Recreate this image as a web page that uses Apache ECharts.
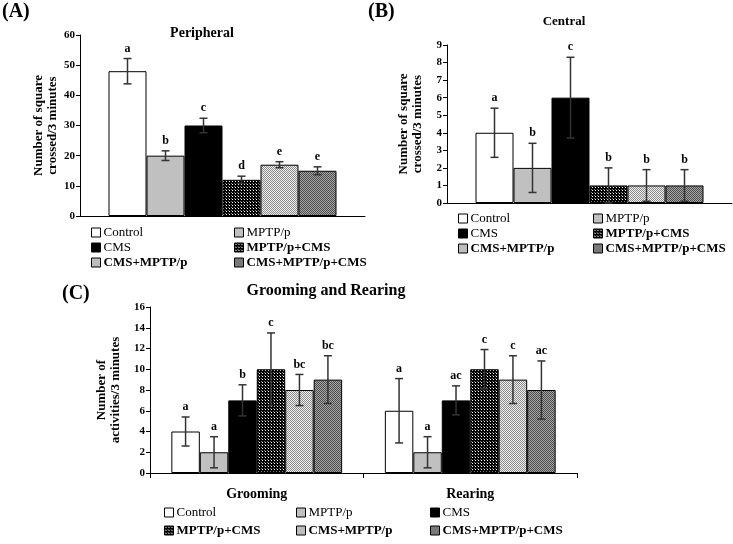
<!DOCTYPE html>
<html>
<head>
<meta charset="utf-8">
<script src="https://cdn.jsdelivr.net/npm/echarts@6/dist/echarts.min.js"></script>
<style>
  html, body { margin: 0; padding: 0; background: #fff; }
  #main { width: 733px; height: 544px; }
</style>
</head>
<body>
<div id="main"></div>
<script>
var groups = ['Control', 'MPTP/p', 'CMS', 'MPTP/p+CMS', 'CMS+MPTP/p', 'CMS+MPTP/p+CMS'];

// (A) peripheral
var periMean = [48, 20, 30, 12, 17, 15];
var periErr = [4.2, 1.6, 2.4, 1.2, 1.0, 1.3];
var periLetters = ['a', 'b', 'c', 'd', 'e', 'e'];
var periTicks = [0, 10, 20, 30, 40, 50, 60];

// (B) central
var centMean = [4, 2, 6, 1, 1, 1];
var centErr = [1.4, 1.4, 2.3, 1.0, 0.9, 0.9];
var centLetters = ['a', 'b', 'c', 'b', 'b', 'b'];
var centTicks = [0, 1, 2, 3, 4, 5, 6, 7, 8, 9];

// (C) grooming and rearing
var behaviours = ['Grooming', 'Rearing'];
var groomMean = [4, 2, 7, 10, 8, 9];
var groomErr = [1.4, 1.5, 1.5, 3.5, 1.5, 2.3];
var groomLetters = ['a', 'a', 'b', 'c', 'bc', 'bc'];
var rearMean = [6, 2, 7, 10, 9, 8];
var rearErr = [3.1, 1.5, 1.4, 1.9, 2.3, 2.8];
var rearLetters = ['a', 'a', 'ac', 'c', 'c', 'ac'];
var activTicks = [0, 2, 4, 6, 8, 10, 12, 14, 16];

var serif = 'Liberation Serif';

function checker(a, b, cell) {
    var c = document.createElement('canvas');
    c.width = cell * 2;
    c.height = cell * 2;
    var ctx = c.getContext('2d');
    ctx.fillStyle = b;
    ctx.fillRect(0, 0, c.width, c.height);
    ctx.fillStyle = a;
    ctx.fillRect(0, 0, cell, cell);
    ctx.fillRect(cell, cell, cell, cell);
    return { image: c, repeat: 'repeat' };
}

// dark mesh: black ground with small white dots
function mesh() {
    var c = document.createElement('canvas');
    c.width = 3;
    c.height = 3;
    var ctx = c.getContext('2d');
    ctx.fillStyle = '#000';
    ctx.fillRect(0, 0, 3, 3);
    ctx.fillStyle = '#fff';
    ctx.fillRect(1, 1, 1, 1);
    ctx.fillStyle = '#777';
    ctx.fillRect(0, 0, 1, 1);
    return { image: c, repeat: 'repeat' };
}

var fills = [
    '#ffffff',
    '#c0c0c0',
    '#000000',
    mesh(),
    checker('#8a8a8a', '#f0f0f0', 1),
    checker('#4a4a4a', '#a8a8a8', 1)
];
var boldLegend = [false, false, false, true, true, true];

var myChart = echarts.init(document.getElementById('main'));

function yAxisOf(grid, ticks, name, gap) {
    return {
        type: 'value', gridIndex: grid,
        min: 0, max: ticks[ticks.length - 1], interval: ticks[1] - ticks[0],
        name: name, nameLocation: 'middle', nameGap: gap,
        nameTextStyle: { fontFamily: serif, fontWeight: 'bold', fontSize: 13, color: '#000', lineHeight: 14 },
        axisLine: { show: true, lineStyle: { color: '#000', width: 1 } },
        axisTick: { show: true, length: 4, lineStyle: { color: '#000' } },
        axisLabel: { fontFamily: serif, fontWeight: 'bold', fontSize: 11, color: '#000', margin: 5 },
        splitLine: { show: false }
    };
}

function errorSeries(grid, means, errs, letters, nCat) {
    var data = [];
    for (var c = 0; c < nCat; c++) {
        for (var g = 0; g < groups.length; g++) {
            data.push([c, means[c][g], errs[c][g], g, c * groups.length + g]);
        }
    }
    var flatLetters = [];
    for (var k = 0; k < letters.length; k++) flatLetters = flatLetters.concat(letters[k]);
    return {
        type: 'custom', xAxisIndex: grid, yAxisIndex: grid, z: 10,
        silent: true,
        encode: { x: 0, y: 1 },
        data: data,
        renderItem: function (params, api) {
            var cat = api.value(0), mean = api.value(1), err = api.value(2), g = api.value(3);
            var band = api.size([1, 0])[0];
            var bw = band * 0.8 / groups.length;
            var center = api.coord([cat, mean]);
            var x = center[0] - band * 0.4 + (g + 0.5) * bw;
            var top = api.coord([cat, mean + err])[1];
            var bot = api.coord([cat, Math.max(mean - err, 0)])[1];
            var cap = 4;
            var st = { stroke: '#333', lineWidth: 1.5 };
            return {
                type: 'group',
                children: [
                    { type: 'line', shape: { x1: x, y1: top, x2: x, y2: bot }, style: st },
                    { type: 'line', shape: { x1: x - cap, y1: top, x2: x + cap, y2: top }, style: st },
                    { type: 'line', shape: { x1: x - cap, y1: bot, x2: x + cap, y2: bot }, style: st },
                    {
                        type: 'text', x: x, y: top - 4,
                        style: {
                            text: flatLetters[api.value(4)], textAlign: 'center', textVerticalAlign: 'bottom',
                            font: 'bold 12px ' + serif, fill: '#000'
                        }
                    }
                ]
            };
        }
    };
}

var series = [];
var panels = [
    { grid: 0, means: [periMean] },
    { grid: 1, means: [centMean] },
    { grid: 2, means: [groomMean, rearMean] }
];
panels.forEach(function (p) {
    groups.forEach(function (name, g) {
        series.push({
            type: 'bar', name: name, xAxisIndex: p.grid, yAxisIndex: p.grid,
            barGap: '0%', barCategoryGap: '20%',
            itemStyle: { color: fills[g], borderColor: '#000', borderWidth: 1 },
            emphasis: { disabled: true },
            data: p.means.map(function (m) { return m[g]; })
        });
    });
});
series.push(errorSeries(0, [periMean], [periErr], [periLetters], 1));
series.push(errorSeries(1, [centMean], [centErr], [centLetters], 1));
series.push(errorSeries(2, [groomMean, rearMean], [groomErr, rearErr], [groomLetters, rearLetters], 2));

function legendCol(names, left, top, gap) {
    return {
        orient: 'vertical', left: left, top: top, itemGap: gap,
        itemWidth: 9, itemHeight: 9, icon: 'rect', selectedMode: false,
        padding: 0,
        itemStyle: { borderColor: '#000', borderWidth: 1 },
        textStyle: { fontFamily: serif, fontSize: 13, color: '#000', padding: [0, 0, 0, -2] },
        data: names.map(function (n) {
            return { name: n, textStyle: { fontWeight: boldLegend[groups.indexOf(n)] ? 'bold' : 'normal' } };
        })
    };
}

option = {
    animation: false,
    backgroundColor: '#fff',
    title: [
        { text: '(A)', left: 2, top: 2, padding: 0, textStyle: { fontFamily: serif, fontWeight: 'bold', fontSize: 20, color: '#000' } },
        { text: 'Peripheral', left: 202, top: 26, padding: 0, textAlign: 'center', textStyle: { fontFamily: serif, fontWeight: 'bold', fontSize: 14, color: '#000' } },
        { text: '(B)', left: 368, top: 2, padding: 0, textStyle: { fontFamily: serif, fontWeight: 'bold', fontSize: 20, color: '#000' } },
        { text: 'Central', left: 564, top: 15, padding: 0, textAlign: 'center', textStyle: { fontFamily: serif, fontWeight: 'bold', fontSize: 13, color: '#000' } },
        { text: '(C)', left: 62, top: 284, padding: 0, textStyle: { fontFamily: serif, fontWeight: 'bold', fontSize: 20, color: '#000' } },
        { text: 'Grooming and Rearing', left: 326, top: 283, padding: 0, textAlign: 'center', textStyle: { fontFamily: serif, fontWeight: 'bold', fontSize: 16, color: '#000' } }
    ],
    legend: [
        legendCol(['Control', 'CMS', 'CMS+MPTP/p'], 91, 226, 2),
        legendCol(['MPTP/p', 'MPTP/p+CMS', 'CMS+MPTP/p+CMS'], 234, 226, 2),
        legendCol(['Control', 'CMS', 'CMS+MPTP/p'], 458, 212, 2),
        legendCol(['MPTP/p', 'MPTP/p+CMS', 'CMS+MPTP/p+CMS'], 593, 212, 2),
        legendCol(['Control', 'MPTP/p+CMS'], 164, 506, 5),
        legendCol(['MPTP/p', 'CMS+MPTP/p'], 296, 506, 5),
        legendCol(['CMS', 'CMS+MPTP/p+CMS'], 430, 506, 5)
    ],
    grid: [
        { left: 80, top: 35, width: 285, height: 181 },
        { left: 447, top: 45, width: 285, height: 158 },
        { left: 150, top: 307, width: 427, height: 166 }
    ],
    xAxis: [
        { type: 'category', gridIndex: 0, data: [''], axisLine: { lineStyle: { color: '#000' } }, axisTick: { show: false }, axisLabel: { show: false } },
        { type: 'category', gridIndex: 1, data: [''], axisLine: { lineStyle: { color: '#000' } }, axisTick: { show: false }, axisLabel: { show: false } },
        {
            type: 'category', gridIndex: 2, data: behaviours,
            axisLine: { lineStyle: { color: '#000' } },
            axisTick: { show: true, length: 5, lineStyle: { color: '#000' } },
            axisLabel: { fontFamily: serif, fontWeight: 'bold', fontSize: 14, color: '#000', margin: 14 }
        }
    ],
    yAxis: [
        yAxisOf(0, periTicks, 'Number of square\ncrossed/3 minutes', 18),
        yAxisOf(1, centTicks, 'Number of square\ncrossed/3 minutes', 22),
        yAxisOf(2, activTicks, 'Number of\nactivities/3 minutes', 22)
    ],
    series: series
};

myChart.setOption(option);
</script>
</body>
</html>
